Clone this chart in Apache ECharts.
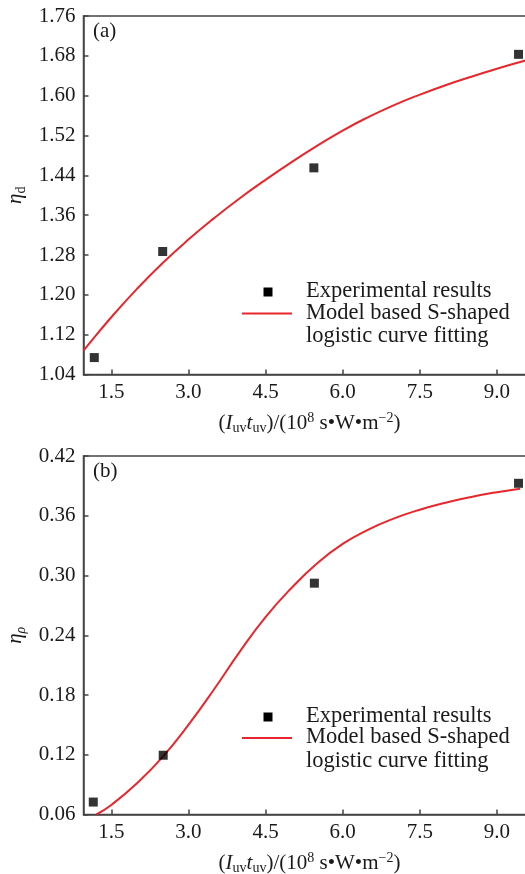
<!DOCTYPE html>
<html>
<head>
<meta charset="utf-8">
<script src="https://cdn.jsdelivr.net/npm/echarts@6/dist/echarts.min.js"></script>
<style>html,body{margin:0;padding:0;background:#fff}#c{width:525px;height:874px}</style>
</head>
<body>
<div id="c"></div>
<script>
// Experimental points
const expX_a = [1.17, 2.50, 5.44, 9.42];
const expY_a = [1.074, 1.287, 1.455, 1.683];
const expX_b = [1.15, 2.51, 5.45, 9.42];
const expY_b = [0.0725, 0.1195, 0.2923, 0.3926];
// Fitted curves
const fitX_a = [0.96, 1.0, 1.5, 2.0, 2.5, 3.0, 3.5, 4.0, 4.5, 5.0, 5.5, 6.0, 6.5, 7.0, 7.5, 8.0, 8.5, 9.0, 9.5, 9.75];
const fitY_a = [1.088, 1.093, 1.155, 1.212, 1.264, 1.311, 1.354, 1.394, 1.431, 1.466, 1.499, 1.530, 1.557, 1.581, 1.602, 1.621, 1.638, 1.654, 1.669, 1.676];
const fitX_b = [1.21, 1.5, 2.0, 2.5, 3.0, 3.5, 4.0, 4.5, 5.0, 5.5, 6.0, 6.5, 7.0, 7.5, 8.0, 8.5, 9.0, 9.45];
const fitY_b = [0.060, 0.0696, 0.0914, 0.1179, 0.150, 0.1858, 0.2236, 0.2582, 0.2872, 0.3121, 0.3317, 0.3461, 0.3573, 0.3661, 0.3731, 0.3789, 0.3837, 0.3872];
const xTicks = [1.5, 3.0, 4.5, 6.0, 7.5, 9.0];
const yTicks_a = {min: 1.04, max: 1.76, step: 0.08};
const yTicks_b = {min: 0.06, max: 0.42, step: 0.06};
const legendExp = 'Experimental results';
const legendFit = ['Model based S-shaped', 'logistic curve fitting'];
const panelTags = ['(a)', '(b)'];

const FONT = 'Liberation Serif';
const AX = '#444';
const TXT = '#1a1a1a';
const RED = '#e8262b';
const xMin = 0.96, xMax = 9.75;

function zip(xs, ys){ return xs.map((x,i)=>[x, ys[i]]); }

const xName = '({i|I}{s|uv}{i|t}{s|uv})/(10{p|8} s•W•m{p|−2})';
const nameRich = {
  i:{fontStyle:'italic', fontFamily:FONT, fontSize:21, color:TXT, lineHeight:24},
  s:{fontFamily:FONT, fontSize:14, color:TXT, verticalAlign:'bottom', lineHeight:14},
  si:{fontFamily:FONT, fontSize:14, fontStyle:'italic', color:TXT, verticalAlign:'bottom', lineHeight:14},
  p:{fontFamily:FONT, fontSize:14, color:TXT, verticalAlign:'top', lineHeight:14}
};

function xAxis(idx){
  return {
    type:'value', gridIndex:idx, min:xMin, max:xMax,
    axisLine:{show:true, lineStyle:{color:AX, width:1.5}},
    axisTick:{show:true, inside:true, length:5, customValues:xTicks, lineStyle:{color:AX, width:1.5}},
    axisLabel:{customValues:xTicks, formatter:v=>v.toFixed(1), fontFamily:FONT, fontSize:21, color:TXT, margin:7},
    splitLine:{show:false},
    name:xName, nameLocation:'middle', nameGap:37,
    nameTextStyle:{fontFamily:FONT, fontSize:21, color:TXT, lineHeight:24, rich:nameRich}
  };
}
function yAxis(idx, t, name){
  return {
    type:'value', gridIndex:idx, min:t.min, max:t.max, interval:t.step,
    axisLine:{show:true, lineStyle:{color:AX, width:1.5}},
    axisTick:{show:true, inside:true, length:5, lineStyle:{color:AX, width:1.5}},
    axisLabel:{formatter:v=>v.toFixed(2), fontFamily:FONT, fontSize:21, color:TXT, margin:8},
    splitLine:{show:false},
    name:name, nameLocation:'middle', nameGap:50, nameRotate:90,
    nameTextStyle:{fontFamily:FONT, fontSize:21, color:TXT, lineHeight:24, rich:nameRich}
  };
}

function legendGraphics(sqY, lineY, line2Y, tagY, tag){
  const t = (x,y,s)=>({type:'text', left:x, top:y-12, style:{text:s, fontFamily:FONT, fontSize:22.5, fill:TXT}});
  return [
    {type:'rect', shape:{x:263.5, y:sqY-4.5, width:9, height:9}, style:{fill:'#000'}},
    {type:'line', shape:{x1:242, y1:lineY, x2:292, y2:lineY}, style:{stroke:RED, lineWidth:2}},
    t(306, sqY, legendExp),
    t(306, lineY, legendFit[0]),
    t(306, line2Y, legendFit[1]),
    {type:'text', left:93, top:tagY-12, style:{text:tag, fontFamily:FONT, fontSize:21, fill:TXT}}
  ];
}

const pxW = 452;
const chart = echarts.init(document.getElementById('c'), null, {renderer:'canvas'});
chart.setOption({
  animation:false,
  backgroundColor:'#fff',
  grid:[
    {left:83.5, top:16, width:pxW, height:358.5, outerBoundsMode:'none', containLabel:false, show:true, borderColor:AX, borderWidth:1.5, backgroundColor:'transparent'},
    {left:83.5, top:456, width:pxW, height:358.5, outerBoundsMode:'none', containLabel:false, show:true, borderColor:AX, borderWidth:1.5, backgroundColor:'transparent'}
  ],
  xAxis:[xAxis(0), xAxis(1)],
  yAxis:[yAxis(0, yTicks_a, '{i|η}{s|d}'), yAxis(1, yTicks_b, '{i|η}{si|ρ}')],
  series:[
    {type:'line', xAxisIndex:0, yAxisIndex:0, data:zip(fitX_a, fitY_a), smooth:true, showSymbol:false, lineStyle:{color:RED, width:2}, z:2},
    {type:'scatter', xAxisIndex:0, yAxisIndex:0, data:zip(expX_a, expY_a), symbol:'rect', symbolSize:9, itemStyle:{color:'#000'}, z:3},
    {type:'line', xAxisIndex:1, yAxisIndex:1, data:zip(fitX_b, fitY_b), smooth:true, showSymbol:false, lineStyle:{color:RED, width:2}, z:2},
    {type:'scatter', xAxisIndex:1, yAxisIndex:1, data:zip(expX_b, expY_b), symbol:'rect', symbolSize:9, itemStyle:{color:'#000'}, z:3}
  ],
  graphic:[].concat(legendGraphics(292, 313.5, 337, 33, panelTags[0]), legendGraphics(717, 738, 761.5, 473, panelTags[1]))
});
</script>
</body>
</html>
